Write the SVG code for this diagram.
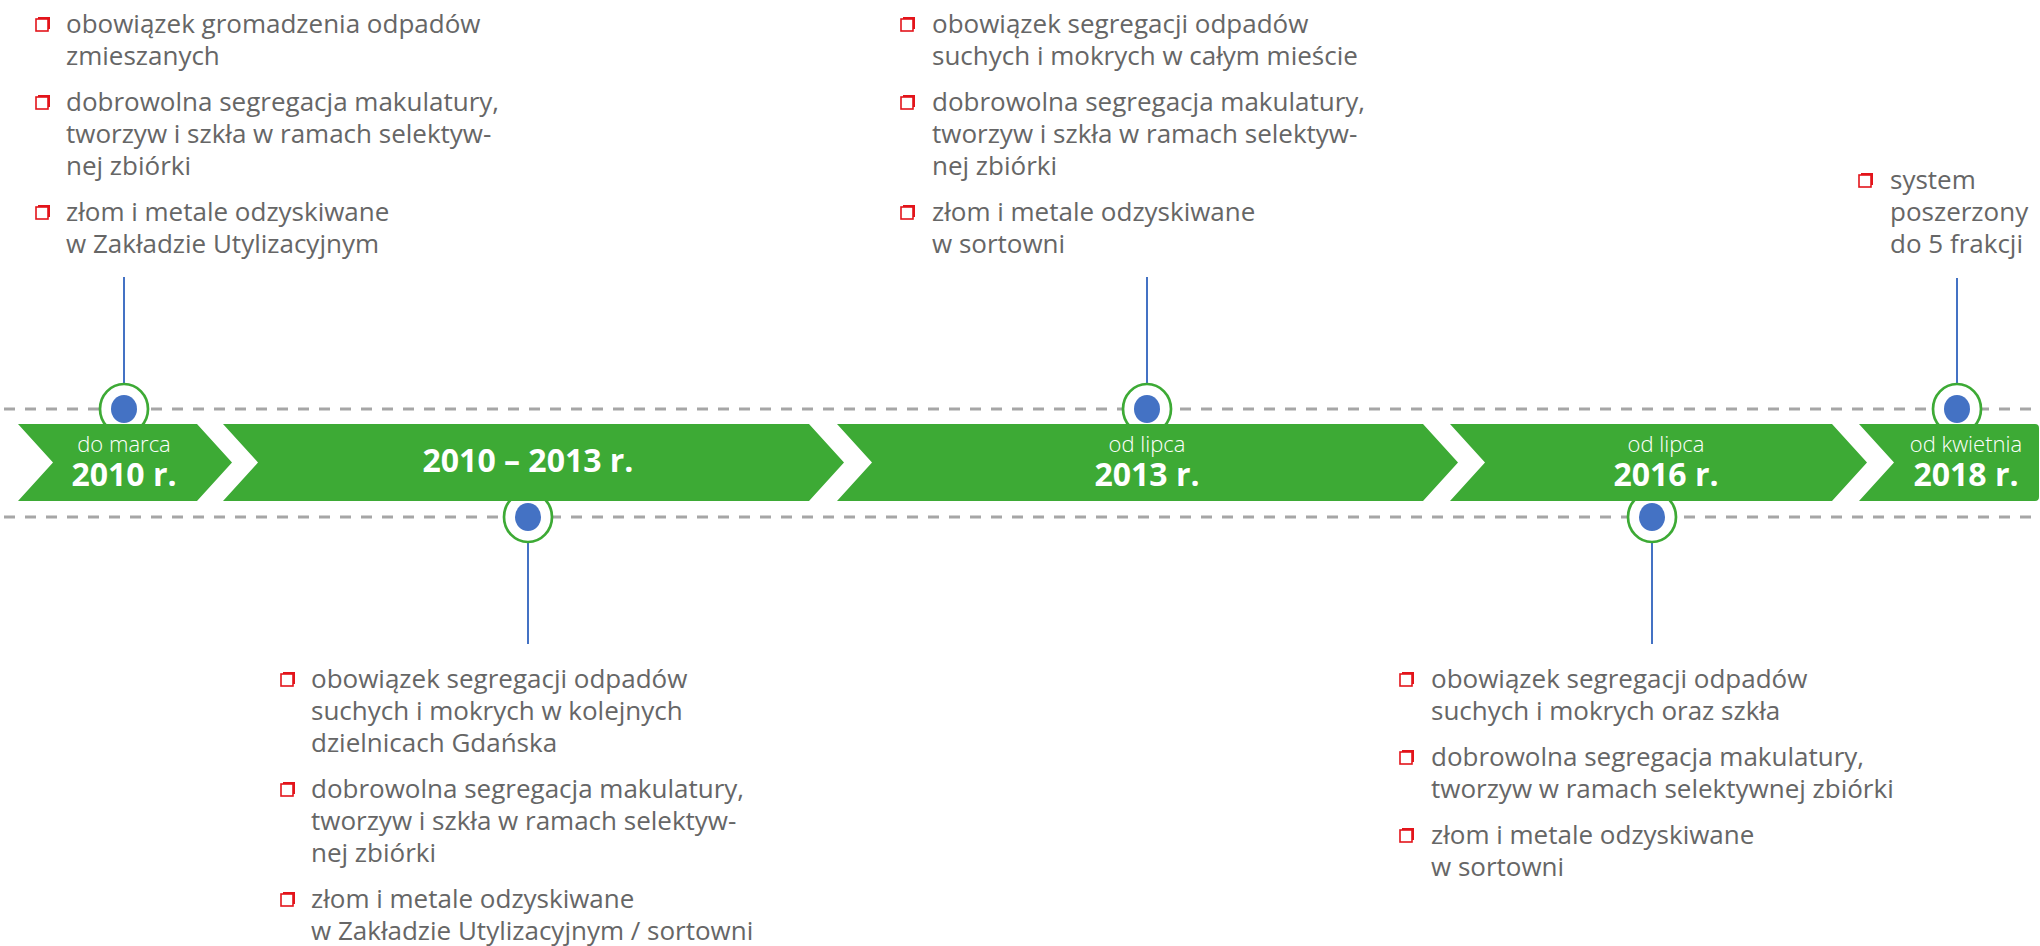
<svg xmlns="http://www.w3.org/2000/svg" xmlns:xlink="http://www.w3.org/1999/xlink" width="2040" height="946" viewBox="0 0 2040 946">
<style>
.band{fill:#3DAA35}
.dash{stroke:#A6A6A6;stroke-width:3;stroke-dasharray:11 10;fill:none}
.ring{fill:#FFFFFF;stroke:#3DAA35;stroke-width:2.7}
.dot{fill:#4472C4}
.stem{stroke:#4472C4;stroke-width:2;fill:none}
.txt{font-family:"Open Sans","Liberation Sans",sans-serif;font-size:26px;fill:#666666}
.lbl{font-family:"Open Sans","Liberation Sans",sans-serif;font-size:22px;font-weight:300;fill:#FFFFFF;text-anchor:middle}
.yr{font-family:"Open Sans","Liberation Sans",sans-serif;font-size:32px;font-weight:700;fill:#FFFFFF;text-anchor:middle}
</style>
<defs>
<g id="bul">
<rect x="2" y="-2" width="12" height="12" fill="#E3141B"/>
<rect x="0" y="0" width="12" height="12" fill="#FFFFFF" stroke="#E3141B" stroke-width="1.6"/>
</g>
</defs>
<rect width="2040" height="946" fill="#FFFFFF"/>
<g id="guides">
<line class="dash" x1="4" y1="409" x2="2040" y2="409"/>
<line class="dash" x1="4" y1="517" x2="2040" y2="517"/>
</g>
<g id="connectors">
<line class="stem" x1="124" y1="277" x2="124" y2="390"/>
<line class="stem" x1="528" y1="540" x2="528" y2="644"/>
<line class="stem" x1="1147" y1="277" x2="1147" y2="390"/>
<line class="stem" x1="1652" y1="540" x2="1652" y2="644"/>
<line class="stem" x1="1957" y1="278" x2="1957" y2="390"/>
</g>
<g id="markers">
<ellipse class="ring" cx="124" cy="409" rx="24" ry="25"/>
<ellipse class="ring" cx="528" cy="517" rx="24" ry="25"/>
<ellipse class="ring" cx="1147" cy="409" rx="24" ry="25"/>
<ellipse class="ring" cx="1652" cy="517" rx="24" ry="25"/>
<ellipse class="ring" cx="1957" cy="409" rx="24" ry="25"/>
</g>
<g id="step1">
<polygon class="band" points="18,424 197,424 232,462.5 197,501 18,501 53,462.5"/>
<text class="lbl" x="124" y="452">do marca</text>
<text class="yr" x="124" y="486">2010 r.</text>
</g>
<g id="step2">
<polygon class="band" points="223,424 809,424 844,462.5 809,501 223,501 258,462.5"/>
<text class="yr" x="528" y="472">2010 – 2013 r.</text>
</g>
<g id="step3">
<polygon class="band" points="837,424 1423,424 1458,462.5 1423,501 837,501 872,462.5"/>
<text class="lbl" x="1147" y="452">od lipca</text>
<text class="yr" x="1147" y="486">2013 r.</text>
</g>
<g id="step4">
<polygon class="band" points="1450,424 1832,424 1867,462.5 1832,501 1450,501 1485,462.5"/>
<text class="lbl" x="1666" y="452">od lipca</text>
<text class="yr" x="1666" y="486">2016 r.</text>
</g>
<g id="step5">
<path class="band" d="M1859,424 H2035 Q2039,424 2039,428 V497 Q2039,501 2035,501 H1859 L1894,462.5 Z"/>
<text class="lbl" x="1966" y="452">od kwietnia</text>
<text class="yr" x="1966" y="486">2018 r.</text>
</g>
<g id="dots">
<ellipse class="dot" cx="124" cy="409" rx="13" ry="14"/>
<ellipse class="dot" cx="528" cy="517" rx="13" ry="14"/>
<ellipse class="dot" cx="1147" cy="409" rx="13" ry="14"/>
<ellipse class="dot" cx="1652" cy="517" rx="13" ry="14"/>
<ellipse class="dot" cx="1957" cy="409" rx="13" ry="14"/>
</g>
<g id="note1">
<use xlink:href="#bul" x="36" y="19"/>
<use xlink:href="#bul" x="36" y="97"/>
<use xlink:href="#bul" x="36" y="207"/>
<text class="txt"><tspan x="66" y="33">obowiązek gromadzenia odpadów</tspan><tspan x="66" y="65">zmieszanych</tspan><tspan x="66" y="111">dobrowolna segregacja makulatury,</tspan><tspan x="66" y="143">tworzyw i szkła w ramach selektyw-</tspan><tspan x="66" y="175">nej zbiórki</tspan><tspan x="66" y="221">złom i metale odzyskiwane</tspan><tspan x="66" y="253">w Zakładzie Utylizacyjnym</tspan></text>
</g>
<g id="note2">
<use xlink:href="#bul" x="281" y="674"/>
<use xlink:href="#bul" x="281" y="784"/>
<use xlink:href="#bul" x="281" y="894"/>
<text class="txt"><tspan x="311" y="688">obowiązek segregacji odpadów</tspan><tspan x="311" y="720">suchych i mokrych w kolejnych</tspan><tspan x="311" y="752">dzielnicach Gdańska</tspan><tspan x="311" y="798">dobrowolna segregacja makulatury,</tspan><tspan x="311" y="830">tworzyw i szkła w ramach selektyw-</tspan><tspan x="311" y="862">nej zbiórki</tspan><tspan x="311" y="908">złom i metale odzyskiwane</tspan><tspan x="311" y="940">w Zakładzie Utylizacyjnym / sortowni</tspan></text>
</g>
<g id="note3">
<use xlink:href="#bul" x="901" y="19"/>
<use xlink:href="#bul" x="901" y="97"/>
<use xlink:href="#bul" x="901" y="207"/>
<text class="txt"><tspan x="932" y="33">obowiązek segregacji odpadów</tspan><tspan x="932" y="65">suchych i mokrych w całym mieście</tspan><tspan x="932" y="111">dobrowolna segregacja makulatury,</tspan><tspan x="932" y="143">tworzyw i szkła w ramach selektyw-</tspan><tspan x="932" y="175">nej zbiórki</tspan><tspan x="932" y="221">złom i metale odzyskiwane</tspan><tspan x="932" y="253">w sortowni</tspan></text>
</g>
<g id="note4">
<use xlink:href="#bul" x="1400" y="674"/>
<use xlink:href="#bul" x="1400" y="752"/>
<use xlink:href="#bul" x="1400" y="830"/>
<text class="txt"><tspan x="1431" y="688">obowiązek segregacji odpadów</tspan><tspan x="1431" y="720">suchych i mokrych oraz szkła</tspan><tspan x="1431" y="766">dobrowolna segregacja makulatury,</tspan><tspan x="1431" y="798">tworzyw w ramach selektywnej zbiórki</tspan><tspan x="1431" y="844">złom i metale odzyskiwane</tspan><tspan x="1431" y="876">w sortowni</tspan></text>
</g>
<g id="note5">
<use xlink:href="#bul" x="1859" y="175"/>
<text class="txt"><tspan x="1890" y="189">system</tspan><tspan x="1890" y="221">poszerzony</tspan><tspan x="1890" y="253">do 5 frakcji</tspan></text>
</g>
</svg>
